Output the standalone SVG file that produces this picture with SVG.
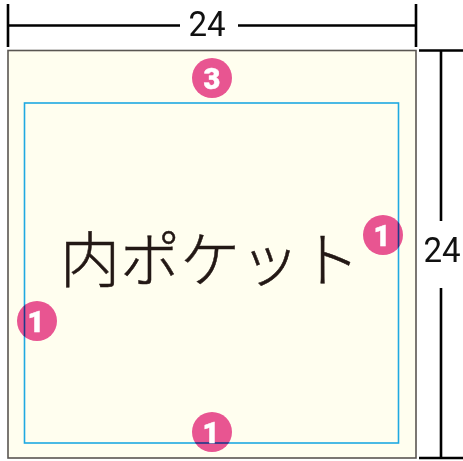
<svg xmlns="http://www.w3.org/2000/svg" width="463" height="461" viewBox="0 0 463 461">
<style>
.dim{stroke:#000;stroke-width:2.6;fill:none}
.num{font-family:"Roboto","Liberation Sans",sans-serif;font-size:36px;fill:#111;text-anchor:middle}
.badge{fill:#e8559b;mix-blend-mode:multiply}
.bt{font-family:"Roboto","Liberation Sans",sans-serif;font-weight:900;font-size:29px;fill:#fff;text-anchor:middle;stroke:#fff;stroke-width:0.5}
</style>
<rect width="463" height="461" fill="#fff"/>
<g id="sheet">
<rect x="8" y="50.5" width="408" height="407.5" fill="#fffeef" stroke="#5a5652" stroke-width="1.6"/>
<rect x="24.5" y="103" width="374" height="340" fill="none" stroke="#1fa9e1" stroke-width="1.6"/>
<text x="210" y="281.5" font-family="'Noto Sans CJK JP',sans-serif" font-weight="300" font-size="60" fill="#231815" stroke="#231815" stroke-width="0.5" text-anchor="middle">内ポケット</text>
</g>
<g id="dimensions">
<path class="dim" d="M8 4V47M416 4V47M8 25.5H180M238 25.5H416M419 50.5H463M419 458H463M441 50.5V221M441 288V458"/>
</g>
<g id="dim-top"><text class="num" transform="translate(207 36) scale(.92 1)">24</text></g>
<g id="dim-right"><text class="num" transform="translate(442 262) scale(.92 1)">24</text></g>
<g id="badge-top"><circle class="badge" cx="212" cy="78" r="20"/><text class="bt" x="212" y="88.5">3</text></g>
<g id="badge-right"><circle class="badge" cx="383" cy="235" r="20"/><text class="bt" x="382" y="245.5">1</text></g>
<g id="badge-left"><circle class="badge" cx="37" cy="321" r="20"/><text class="bt" x="36" y="331.5">1</text></g>
<g id="badge-bottom"><circle class="badge" cx="212" cy="432" r="20"/><text class="bt" x="211" y="442.5">1</text></g>
</svg>
